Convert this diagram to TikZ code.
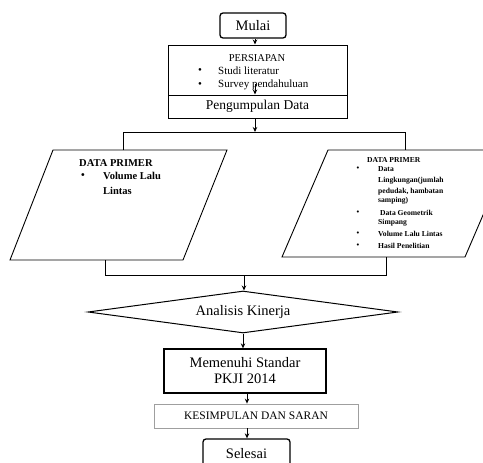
\documentclass[tikz,border=0pt]{standalone}
\usepackage{fontspec}
\setmainfont{Liberation Serif}
\usetikzlibrary{shapes.geometric,arrows.meta,calc}
\begin{document}
\begin{tikzpicture}[x=1pt,y=-1pt,
  box/.style={draw, line width=1pt, inner sep=0pt},
  arr/.style={-{Stealth[length=5pt,width=4.5pt]}, line width=0.9pt},
  ln/.style={line width=0.9pt},
  txt/.style={inner sep=0pt, anchor=west},
  fbig/.style={font=\fontsize{14.5}{16}\selectfont},
  fmid/.style={font=\fontsize{11}{13}\selectfont},
  fsm/.style={font=\bfseries\fontsize{7.6}{9}\selectfont},
  flp/.style={font=\bfseries\fontsize{10.5}{12}\selectfont}]
\useasboundingbox (0,0) rectangle (483,463);
\clip (0,0) rectangle (483,463);
% start
\node[box, rounded corners=3pt, line width=1.3pt, minimum width=66pt, minimum height=25pt, fbig] (mulai) at (253,25.5) {Mulai};
% persiapan
\node[box, minimum width=179pt, minimum height=50pt] (persiapan) at (257.5,70) {};
\node[inner sep=0pt, font=\fontsize{10.5}{12}\selectfont] (perst) at (257,58) {PERSIAPAN};
\node[inner sep=0pt, fmid] (pb1) at (200,71) {\textbullet};
\node[txt, fmid] (pt1) at (218,71) {Studi literatur};
\node[inner sep=0pt, fmid] (pb2) at (200,85) {\textbullet};
\node[txt, fmid] (pt2) at (218,85) {Survey pendahuluan};
% pengumpulan
\node[box, minimum width=179pt, minimum height=23pt, font=\fontsize{13.5}{15}\selectfont] (pengumpulan) at (257.5,106.5) {Pengumpulan Data};
% arrows top
\coordinate (ax) at (255,0);
\draw[arr] (ax |- mulai.south) -- (ax |- persiapan.north);
\coordinate (a1) at (255,84);
\draw[arr] (a1) -- (a1 |- pengumpulan.north);
\coordinate (j1) at (255,132);
\draw[arr] (j1 |- pengumpulan.south) -- (j1);
% left parallelogram
\coordinate (lpA) at (53,150);
\coordinate (lpB) at (227,150);
\coordinate (lpC) at (183,260);
\coordinate (lpD) at (10,260);
\coordinate (lpTop) at (123,150);
\coordinate (lpBot) at (105,260);
\draw[ln] (lpA) -- (lpB) -- (lpC) -- (lpD) -- cycle;
\node[txt, flp] (lt0) at (79,163) {DATA PRIMER};
\node[inner sep=0pt, flp] (lb1) at (83,176) {\textbullet};
\node[txt, flp] (lt1) at (103,176) {Volume Lalu};
\node[txt, flp] (lt2) at (103,191) {Lintas};
% right parallelogram
\coordinate (rpA) at (328,150);
\coordinate (rpB) at (511,150);
\coordinate (rpC) at (465,257);
\coordinate (rpD) at (282,257);
\coordinate (rpTop) at (405,150);
\coordinate (rpBot) at (386,257);
\draw[ln] (rpA) -- (rpB) -- (rpC) -- (rpD) -- cycle;
\node[txt, fsm] (rt0) at (367,160) {DATA PRIMER};
\node[inner sep=0pt, fsm] (rb1) at (358,169) {\textbullet};
\node[txt, fsm] (rt1) at (378,169) {Data};
\node[txt, fsm] (rt2) at (378,181) {Lingkungan(jumlah};
\node[txt, fsm] (rt3) at (378,192) {pedudak, hambatan};
\node[txt, fsm] (rt4) at (378,201) {samping)};
\node[inner sep=0pt, fsm] (rb2) at (358,213) {\textbullet};
\node[txt, fsm] (rt5) at (380,213) {Data Geometrik};
\node[txt, fsm] (rt6) at (378,223) {Simpang};
\node[inner sep=0pt, fsm] (rb3) at (358,234) {\textbullet};
\node[txt, fsm] (rt7) at (378,234) {Volume Lalu Lintas};
\node[inner sep=0pt, fsm] (rb4) at (358,246) {\textbullet};
\node[txt, fsm] (rt8) at (378,246) {Hasil Penelitian};
% split and join lines
\draw[ln] (lpTop) -- (lpTop |- j1) -- (rpTop |- j1) -- (rpTop);
\coordinate (j2) at (244,275);
\draw[ln] (lpBot) -- (lpBot |- j2) -- (rpBot |- j2) -- (rpBot);
% analisis
\node[draw, line width=1pt, shape=diamond, aspect=7.38, minimum width=310pt, minimum height=42pt, inner sep=0pt, fbig] (analisis) at (243,312) {Analisis Kinerja};
\draw[arr] (j2) -- (j2 |- analisis.north);
% memenuhi
\node[box, line width=1.3pt, minimum width=162pt, minimum height=44pt, align=center, fbig] (memenuhi) at (245,371) {Memenuhi Standar\\PKJI 2014};
\draw[arr] (analisis.south) -- (analisis.south |- memenuhi.north);
% kesimpulan
\node[draw=gray!75, line width=0.8pt, inner sep=0pt, minimum width=204pt, minimum height=24pt, font=\fontsize{11.5}{13}\selectfont] (kesimpulan) at (256,416) {KESIMPULAN DAN SARAN};
\coordinate (a4) at (247,0);
\draw[arr] (a4 |- memenuhi.south) -- (a4 |- kesimpulan.north);
% selesai
\node[box, rounded corners=3pt, line width=1.3pt, minimum width=87pt, minimum height=30pt, fbig] (selesai) at (246.5,454) {Selesai};
\draw[arr] (a4 |- kesimpulan.south) -- (a4 |- selesai.north);
\end{tikzpicture}
\end{document}
